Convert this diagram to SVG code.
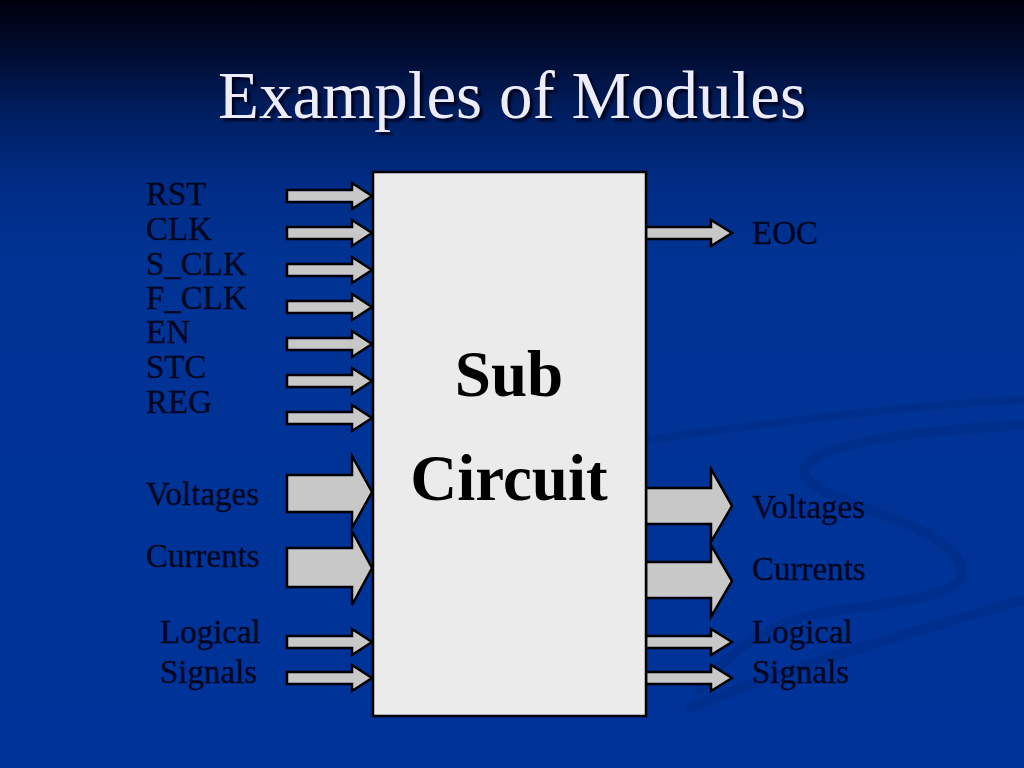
<svg xmlns="http://www.w3.org/2000/svg" width="1024" height="768" viewBox="0 0 1024 768">
  <defs>
    <linearGradient id="bg" x1="0" y1="0" x2="0" y2="1">
      <stop offset="0" stop-color="#00000c"/>
      <stop offset="0.07" stop-color="#000c30"/>
      <stop offset="0.15" stop-color="#001f62"/>
      <stop offset="0.24" stop-color="#002c85"/>
      <stop offset="0.34" stop-color="#003394"/>
      <stop offset="1" stop-color="#003399"/>
    </linearGradient>
    <filter id="shadow" x="-5%" y="-20%" width="110%" height="140%" color-interpolation-filters="sRGB">
      <feDropShadow dx="3" dy="3" stdDeviation="0.8" flood-color="#000018" flood-opacity="0.9"/>
    </filter>
    <style>
      .lbl { font-family: "Liberation Serif", "Times New Roman", serif; font-size: 33px; fill: #000620; stroke: #000620; stroke-width: 0.3px; }
      .big { font-family: "Liberation Serif", "Times New Roman", serif; font-size: 65px; font-weight: bold; fill: #000000; text-anchor: middle; }
      .title { font-family: "Liberation Serif", "Times New Roman", serif; font-size: 67px; text-anchor: middle; fill: #ececfa; filter: url(#shadow); }
      .arr { fill: #c8c8c8; stroke: #000000; stroke-width: 2.5; stroke-linejoin: miter; }
      .swirl { fill: none; stroke: #001f66; stroke-linecap: round; stroke-opacity: 0.2; }
    </style>
  </defs>

  <!-- background -->
  <rect x="0" y="0" width="1024" height="768" fill="url(#bg)"/>
  <g id="swirls">
    <path class="swirl" stroke-width="8" d="M645,440 C760,425 900,405 1024,400"/>
    <path class="swirl" stroke-width="10" d="M1024,425 C930,430 820,440 805,468 C790,500 960,520 962,572 C964,600 860,605 810,615 C760,628 720,660 700,690"/>
    <path class="swirl" stroke-width="10" d="M1024,600 C900,635 780,670 690,708"/>
  </g>

  <!-- title -->
  <g id="title">
    <text class="title" x="512" y="118">Examples of Modules</text>
  </g>

  <!-- connectors -->
  <g id="connectors">
    <!-- left small inputs -->
    <polygon class="arr" points="287,190 352,190 352,183 372,196 352,209 352,202 287,202"/>
    <polygon class="arr" points="287,227 352,227 352,220 372,233 352,246 352,239 287,239"/>
    <polygon class="arr" points="287,264 352,264 352,257 372,270 352,283 352,276 287,276"/>
    <polygon class="arr" points="287,301 352,301 352,294 372,307 352,320 352,313 287,313"/>
    <polygon class="arr" points="287,338 352,338 352,331 372,344 352,357 352,350 287,350"/>
    <polygon class="arr" points="287,375 352,375 352,368 372,381 352,394 352,387 287,387"/>
    <polygon class="arr" points="287,412 352,412 352,405 372,418 352,431 352,424 287,424"/>
    <!-- left big inputs -->
    <polygon class="arr" points="287,475 352,475 352,456 372,492 352,528 352,512 287,512"/>
    <polygon class="arr" points="287,548 352,548 352,531 372,568 352,605 352,587 287,587"/>
    <!-- left logical signals -->
    <polygon class="arr" points="287,636 352,636 352,629 372,642 352,655 352,648 287,648"/>
    <polygon class="arr" points="287,672 352,672 352,665 372,678 352,691 352,684 287,684"/>
    <!-- right EOC -->
    <polygon class="arr" points="646,227 711,227 711,220 732,233 711,246 711,239 646,239"/>
    <!-- right big outputs -->
    <polygon class="arr" points="646,488 711,488 711,469 732,506 711,542 711,524 646,524"/>
    <polygon class="arr" points="646,562 711,562 711,545 732,581 711,617 711,598 646,598"/>
    <!-- right logical signals -->
    <polygon class="arr" points="646,636 711,636 711,629 732,642 711,655 711,648 646,648"/>
    <polygon class="arr" points="646,672 711,672 711,665 732,678 711,691 711,684 646,684"/>
  </g>

  <!-- main node -->
  <g id="subcircuit">
    <rect x="373" y="172" width="273" height="544" fill="#ebebeb" stroke="#000000" stroke-width="2.5"/>
    <text class="big" x="509" y="396">Sub</text>
    <text class="big" x="509" y="500">Circuit</text>
  </g>

  <!-- input labels -->
  <g id="inputs">
    <text class="lbl" x="146" y="205">RST</text>
    <text class="lbl" x="146" y="240">CLK</text>
    <text class="lbl" x="146" y="275">S_CLK</text>
    <text class="lbl" x="146" y="309">F_CLK</text>
    <text class="lbl" x="146" y="343">EN</text>
    <text class="lbl" x="146" y="378">STC</text>
    <text class="lbl" x="146" y="413">REG</text>
    <text class="lbl" x="146" y="505">Voltages</text>
    <text class="lbl" x="146" y="567">Currents</text>
    <text class="lbl" x="160" y="643">Logical</text>
    <text class="lbl" x="160" y="683">Signals</text>
  </g>

  <!-- output labels -->
  <g id="outputs">
    <text class="lbl" x="752" y="244">EOC</text>
    <text class="lbl" x="752" y="518">Voltages</text>
    <text class="lbl" x="752" y="580">Currents</text>
    <text class="lbl" x="752" y="643">Logical</text>
    <text class="lbl" x="752" y="683">Signals</text>
  </g>
</svg>
